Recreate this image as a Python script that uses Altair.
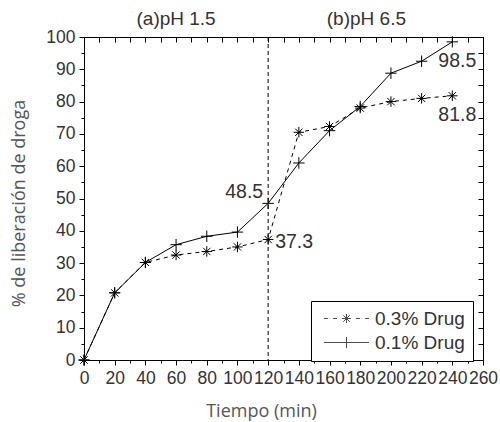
import altair as alt
import pandas as pd

# ---- data ----
time_min = [0, 20, 40, 60, 80, 100, 120, 140, 160, 180, 200, 220, 240]
drug_03 = [0, 20.8, 30.2, 32.5, 33.6, 35.0, 37.3, 70.5, 72.3, 78.0, 80.0, 81.0, 81.8]
drug_01 = [0, 20.8, 30.2, 35.7, 38.3, 39.6, 48.5, 61.0, 71.0, 78.5, 88.8, 92.5, 98.5]
series_names = ["0.3% Drug", "0.1% Drug"]
phase_labels = ["(a)pH 1.5", "(b)pH 6.5"]
phase_x = [60, 184]
phase_boundary = [120]

x_major = list(range(0, 261, 20))
x_minor = list(range(10, 260, 20))
y_major = list(range(0, 101, 10))
y_minor = list(range(5, 100, 10))

rows = []
for t, a, b in zip(time_min, drug_03, drug_01):
    rows.append({"t": t, "v": a, "series": series_names[0]})
    rows.append({"t": t, "v": b, "series": series_names[1]})
df = pd.DataFrame(rows)

X_SCALE = alt.Scale(domain=[0, 260], nice=False, zero=False)
Y_SCALE = alt.Scale(domain=[0, 100], nice=False, zero=False)

LABEL_FONT = "Liberation Sans"
TITLE_FONT = "Open Sans"
TXT = "#333333"


def axis(orient, values, size, labels=False, offset=0, **kw):
    return alt.Axis(orient=orient, values=values, tickSize=size, labels=labels,
                    domain=False, grid=False, offset=offset, tickColor="black",
                    tickWidth=1, labelFont=LABEL_FONT, labelFontSize=17.5,
                    labelColor=TXT, labelPadding=4, labelFlush=False,
                    labelOverlap=False, **kw)


x_main = axis("bottom", x_major, 5, labels=True, title="Tiempo (min)",
              titleFont=TITLE_FONT, titleFontSize=18, titleFontWeight="normal",
              titleColor="#555555", titleX=177, titleY=56,
              titleBaseline="alphabetic")
y_main = axis("left", y_major, 5, labels=True, title="% de liberación de droga",
              titleFont=TITLE_FONT, titleFontSize=18, titleFontWeight="normal",
              titleColor="#555555", titleX=-65, titleY=166, titleAngle=270,
              titleBaseline="middle", titleAlign="center")
x_minor_ax = axis("bottom", x_minor, 3, title=None)
y_minor_ax = axis("left", y_minor, 3, title=None)
x_top = axis("top", x_major + x_minor, 5, offset=-5, title=None)
y_right = axis("right", y_major + y_minor, 5, offset=-5, title=None)

base = alt.Chart(df)

line03 = base.transform_filter(alt.datum.series == series_names[0]).mark_line(
    color="black", strokeWidth=1, strokeDash=[4, 4]
).encode(
    x=alt.X("t:Q", scale=X_SCALE, axis=x_main),
    y=alt.Y("v:Q", scale=Y_SCALE, axis=y_main),
)
line01 = base.transform_filter(alt.datum.series == series_names[1]).mark_line(
    color="black", strokeWidth=1
).encode(
    x=alt.X("t:Q", scale=X_SCALE, axis=x_minor_ax),
    y=alt.Y("v:Q", scale=Y_SCALE, axis=y_minor_ax),
)

ASTER = "M-1,0L1,0M0,-1L0,1M-0.7,-0.7L0.7,0.7M-0.7,0.7L0.7,-0.7"
PLUS = "M-1,0L1,0M0,-1L0,1"

pts03 = base.transform_filter(alt.datum.series == series_names[0]).mark_point(
    shape=ASTER, size=110, filled=False, stroke="black", strokeWidth=1, opacity=1
).encode(
    x=alt.X("t:Q", scale=X_SCALE, axis=x_top),
    y=alt.Y("v:Q", scale=Y_SCALE, axis=y_right),
)
pts01 = base.transform_filter(alt.datum.series == series_names[1]).mark_point(
    shape=PLUS, size=130, filled=False, stroke="black", strokeWidth=1, opacity=1
).encode(
    x=alt.X("t:Q", scale=X_SCALE, axis=None),
    y=alt.Y("v:Q", scale=Y_SCALE, axis=None),
)

vline = alt.Chart(pd.DataFrame({"t": phase_boundary})).mark_rule(
    color="black", strokeWidth=1, strokeDash=[4, 3]
).encode(
    x=alt.X("t:Q", scale=X_SCALE, axis=None),
    y=alt.value(0),
    y2=alt.value(323),
)

phase_text = alt.Chart(pd.DataFrame({"t": phase_x, "label": phase_labels})).mark_text(
    font=LABEL_FONT, fontSize=19, color=TXT, baseline="alphabetic", align="center"
).encode(
    x=alt.X("t:Q", scale=X_SCALE, axis=None),
    y=alt.value(-12),
    text="label:N",
)

# annotations taken from the series values
annots = [
    (time_min[6], drug_01[6], "right", "alphabetic", -5, -5),
    (time_min[6], drug_03[6], "left", "middle", 7, 2),
    (time_min[12], drug_01[12], "center", "top", 5, 10),
    (time_min[12], drug_03[12], "center", "top", 5, 10),
]
annot_layers = []
for t, v, al, bl, dx, dy in annots:
    annot_layers.append(
        alt.Chart(pd.DataFrame({"t": [t], "v": [v], "label": [f"{v:.1f}"]})).mark_text(
            font=LABEL_FONT, fontSize=19.5, color=TXT, align=al, baseline=bl,
            dx=dx, dy=dy
        ).encode(
            x=alt.X("t:Q", scale=X_SCALE, axis=None),
            y=alt.Y("v:Q", scale=Y_SCALE, axis=None),
            text="label:N",
        )
    )

LEG03 = ("M-4.5,0L-3.7,0M-2.7,0L-1.9,0M1.9,0L2.7,0M3.7,0L4.5,0"
         "M-0.9,0L0.9,0M0,-0.9L0,0.9M-0.65,-0.65L0.65,0.65M-0.65,0.65L0.65,-0.65")
LEG01 = "M-4.5,0L4.5,0M0,-1.1L0,1.1"

legend_layer = base.transform_filter("datum.t < 0").mark_point(
    filled=False, stroke="black", strokeWidth=1
).encode(
    x=alt.X("t:Q", scale=X_SCALE, axis=None),
    y=alt.Y("v:Q", scale=Y_SCALE, axis=None),
    shape=alt.Shape(
        "series:N",
        scale=alt.Scale(domain=series_names, range=[LEG03, LEG01]),
        legend=alt.Legend(
            title=None, orient="none", legendX=227, legendY=264,
            fillColor="white", strokeColor="black", padding=8,
            symbolSize=100, symbolStrokeColor="black", symbolFillColor="transparent",
            symbolStrokeWidth=1, symbolOffset=18, labelOffset=19,
            labelFont=LABEL_FONT, labelFontSize=19, labelColor=TXT,
            rowPadding=4,
        ),
    ),
)

chart = alt.layer(
    line03, line01, pts03, pts01, vline, phase_text, *annot_layers, legend_layer
).resolve_axis(
    x="independent", y="independent"
).properties(
    width=399, height=323,
    autosize=alt.AutoSizeParams(type="none"),
    padding={"left": 84, "top": 37, "right": 17, "bottom": 62},
    background="white",
).configure_view(
    stroke="black", strokeWidth=1
)

chart.save("out.html", embed_options={"renderer": "svg", "actions": False})
